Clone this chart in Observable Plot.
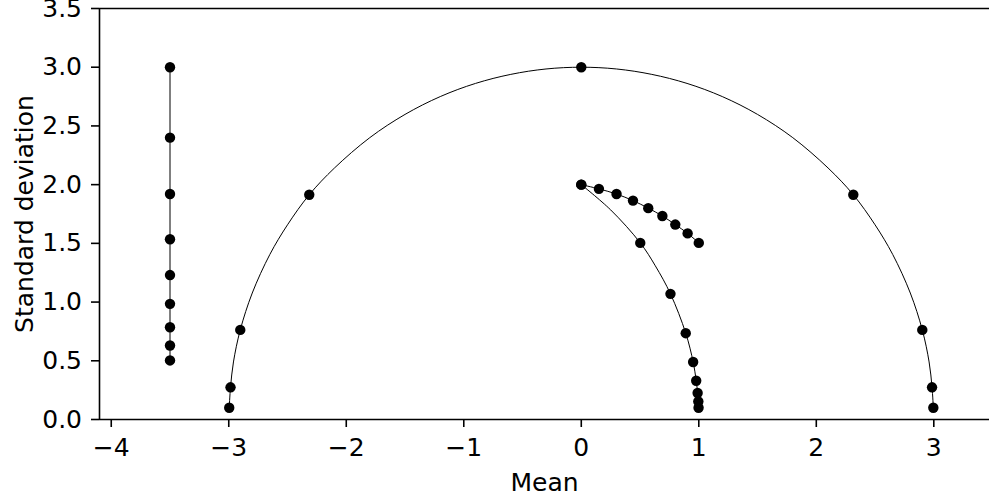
<!DOCTYPE html>
<html>
<head>
<meta charset="utf-8">
<script src="https://cdn.jsdelivr.net/npm/d3@7"></script>
<script src="https://cdn.jsdelivr.net/npm/@observablehq/plot@0.6"></script>
<style>
  html, body { margin: 0; padding: 0; background: #fff; }
  svg { display: block; }
</style>
</head>
<body>
<div id="chart"></div>
<script>
// Vertical geodesic at mean = -3.5
const vertMean = [-3.5, -3.5, -3.5, -3.5, -3.5, -3.5, -3.5, -3.5, -3.5];
const vertStd  = [3.0, 2.4, 1.92, 1.535, 1.23, 0.985, 0.786, 0.63, 0.503];

// Large semicircle geodesic: dots
const semiMean = [-2.996, -2.985, -2.902, -2.315, 0.0, 2.315, 2.902, 2.985, 2.996];
const semiStd  = [0.10, 0.274, 0.763, 1.914, 3.0, 1.914, 0.763, 0.274, 0.10];
// Large semicircle: traced line
const semiLineMean = [-2.996, -2.985, -2.96, -2.902, -2.8, -2.65, -2.5, -2.315, -2.1, -1.8, -1.5, -1.2, -0.9, -0.6, -0.3, 0.0,
                      0.3, 0.6, 0.9, 1.2, 1.5, 1.8, 2.1, 2.315, 2.5, 2.65, 2.8, 2.902, 2.96, 2.985, 2.996];
const semiLineStd  = [0.10, 0.274, 0.49, 0.763, 1.077, 1.406, 1.658, 1.914, 2.142, 2.4, 2.598, 2.75, 2.862, 2.939, 2.985, 3.0,
                      2.985, 2.939, 2.862, 2.75, 2.598, 2.4, 2.142, 1.914, 1.658, 1.406, 1.077, 0.763, 0.49, 0.274, 0.10];

// Arc from (0,2) down to (1,0.1)
const arcAMean = [0.0, 0.502, 0.759, 0.889, 0.952, 0.978, 0.99, 0.996, 0.998];
const arcAStd  = [2.0, 1.504, 1.07, 0.735, 0.49, 0.33, 0.226, 0.153, 0.10];
const arcALineMean = [0.0, 0.25, 0.502, 0.63, 0.759, 0.889, 0.952, 0.978, 0.99, 0.996, 0.998];
const arcALineStd  = [2.0, 1.785, 1.504, 1.309, 1.07, 0.735, 0.49, 0.33, 0.226, 0.153, 0.10];

// Arc from (0,2) to (1,1.5)
const arcBMean = [0.0, 0.15, 0.30, 0.44, 0.57, 0.69, 0.80, 0.905, 1.0];
const arcBStd  = [2.0, 1.964, 1.92, 1.864, 1.80, 1.733, 1.66, 1.585, 1.504];

const xTicks = [-4, -3, -2, -1, 0, 1, 2, 3];
const yTicks = [0.0, 0.5, 1.0, 1.5, 2.0, 2.5, 3.0, 3.5];
const xLabel = "Mean";
const yLabel = "Standard deviation";

const zipPts = (xs, ys) => xs.map((x, i) => ({x, y: ys[i]}));
const dots = [
  ...zipPts(vertMean, vertStd),
  ...zipPts(semiMean, semiStd),
  ...zipPts(arcAMean, arcAStd),
  ...zipPts(arcBMean, arcBStd)
];

const xMin = -4.1, xMax = 3.474;
const fmtX = d => d < 0 ? "\u2212" + Math.abs(d) : String(d);
const FS = 25;

const chart = Plot.plot({
  width: 989,
  height: 500,
  marginLeft: 99,
  marginRight: 0,
  marginTop: 8,
  marginBottom: 81,
  style: {fontFamily: "'DejaVu Sans', sans-serif", fontSize: FS + "px", color: "#000", background: "#fff"},
  x: {domain: [xMin, xMax]},
  y: {domain: [0, 3.5]},
  marks: [
    Plot.axisX({ticks: xTicks, tickFormat: fmtX, tickSize: 8, tickPadding: 11, fontSize: FS, strokeWidth: 1.6, label: null}),
    Plot.axisY({ticks: yTicks, tickFormat: d3.format(".1f"), tickSize: 8, tickPadding: 9.5, fontSize: FS, strokeWidth: 1.6, label: null}),
    Plot.ruleY([0], {stroke: "#000", strokeWidth: 1.6}),
    Plot.ruleY([3.5], {stroke: "#000", strokeWidth: 1.6}),
    Plot.ruleX([xMin], {stroke: "#000", strokeWidth: 1.6}),
    Plot.line(zipPts(vertMean, vertStd), {x: "x", y: "y", stroke: "#000", strokeWidth: 1}),
    Plot.line(zipPts(semiLineMean, semiLineStd), {x: "x", y: "y", stroke: "#000", strokeWidth: 1, curve: "catmull-rom"}),
    Plot.line(zipPts(arcALineMean, arcALineStd), {x: "x", y: "y", stroke: "#000", strokeWidth: 1, curve: "catmull-rom"}),
    Plot.line(zipPts(arcBMean, arcBStd), {x: "x", y: "y", stroke: "#000", strokeWidth: 1, curve: "catmull-rom"}),
    Plot.dot(dots, {x: "x", y: "y", r: 5.2, fill: "#000", stroke: "none"}),
    Plot.text([xLabel], {text: d => d, frameAnchor: "bottom", dy: 63, fontSize: FS, textAnchor: "middle", lineAnchor: "middle", fill: "#000"}),
    Plot.text([yLabel], {text: d => d, frameAnchor: "left", dx: -75, rotate: -90, fontSize: FS, textAnchor: "middle", lineAnchor: "middle", fill: "#000"})
  ]
});
document.getElementById("chart").appendChild(chart);
</script>
</body>
</html>
